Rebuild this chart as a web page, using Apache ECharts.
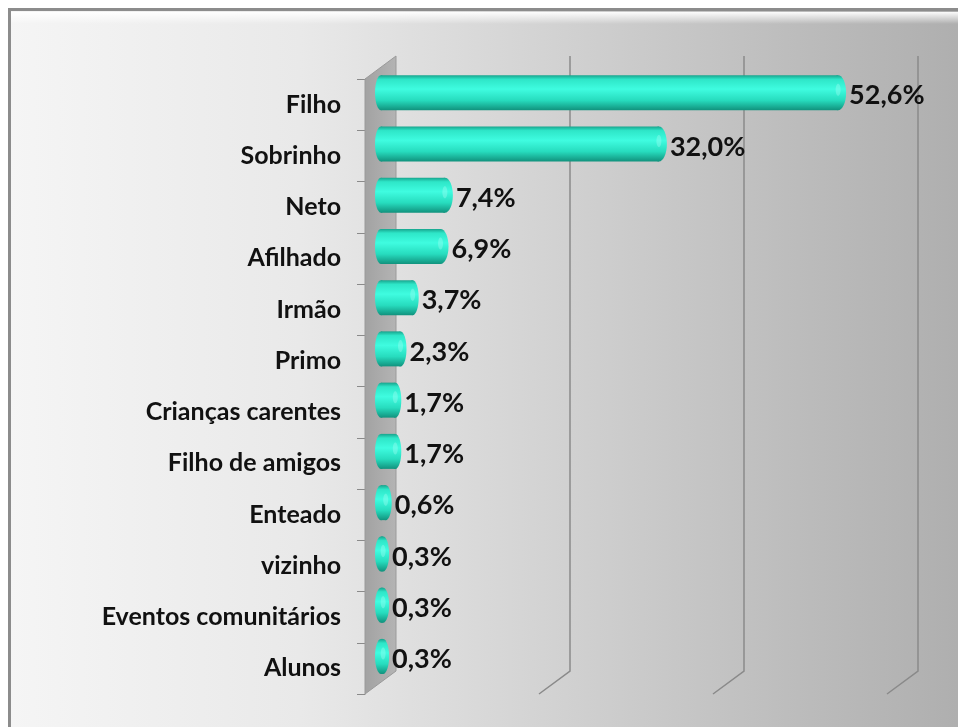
<!DOCTYPE html>
<html>
<head>
<meta charset="utf-8">
<script src="https://cdn.jsdelivr.net/npm/echarts@6/dist/echarts.min.js"></script>
<style>
    html, body { margin: 0; padding: 0; background: #fff; }
    #grafico { width: 958px; height: 727px; }
</style>
</head>
<body>
<div id="grafico"></div>
<script>
// categorie e percentuali
const categorie = ["Filho", "Sobrinho", "Neto", "Afilhado", "Irmão", "Primo", "Crianças carentes",
    "Filho de amigos", "Enteado", "vizinho", "Eventos comunitários", "Alunos"]
const percentuali = [52.6, 32.0, 7.4, 6.9, 3.7, 2.3, 1.7, 1.7, 0.6, 0.3, 0.3, 0.3]
const tickValori = [20, 40, 60]

// profondita' finta 3D
const depthX = 31
const depthY = -23

const barGradient = () => new echarts.graphic.LinearGradient(0, 0, 0, 1, [
    { offset: 0, color: "#17a38c" },
    { offset: 0.12, color: "#2ee6c8" },
    { offset: 0.4, color: "#3ffce0" },
    { offset: 0.72, color: "#27dcbe" },
    { offset: 1, color: "#11937e" },
])

const fmt = v => v.toFixed(1).replace(".", ",") + "%"

const myChart = echarts.init(document.getElementById("grafico"))

const option = {
    backgroundColor: "#ffffff",
    animation: false,
    graphic: [
        {
            type: "rect",
            z: -10,
            shape: { x: 9.5, y: 9.5, width: 970, height: 740 },
            style: {
                fill: new echarts.graphic.LinearGradient(0, 0, 1, 0, [
                    { offset: 0, color: "#f5f5f5" },
                    { offset: 0.3, color: "#e9e9e9" },
                    { offset: 0.55, color: "#d3d3d3" },
                    { offset: 0.8, color: "#bdbdbd" },
                    { offset: 1, color: "#adadad" },
                ]),
                stroke: "#8c8c8c",
                lineWidth: 3,
            },
        },
        {
            type: "rect",
            z: -9,
            shape: { x: 11, y: 12, width: 960, height: 12 },
            style: {
                fill: new echarts.graphic.LinearGradient(0, 0, 0, 1, [
                    { offset: 0, color: "rgba(255,255,255,0.95)" },
                    { offset: 1, color: "rgba(255,255,255,0)" },
                ]),
            },
        },
    ],
    grid: {
        left: 365,
        right: 71,
        top: 79,
        bottom: 33,
    },
    xAxis: {
        type: "value",
        min: 0,
        max: 60,
        interval: 20,
        axisLabel: { show: false },
        axisLine: { show: false },
        axisTick: { show: false },
        splitLine: { show: false },
    },
    yAxis: {
        type: "category",
        inverse: true,
        data: categorie,
        axisLine: { show: true, lineStyle: { color: "#8a8a8a", width: 1 } },
        axisTick: { show: true, length: 8, lineStyle: { color: "#8a8a8a" } },
        axisLabel: {
            margin: 24,
            color: "#111",
            fontFamily: "Lato",
            fontWeight: "bold",
            fontSize: 25,
        },
    },
    series: [
        {
            // linee della griglia sul fondo
            type: "custom",
            z: 1,
            silent: true,
            data: tickValori.map(v => [v, 0]),
            encode: { x: 0, y: 1 },
            renderItem: (params, api) => {
                const band = api.size([0, 1])[1]
                const top = api.coord([api.value(0), 0])[1] - band / 2
                const bottom = api.coord([api.value(0), categorie.length - 1])[1] + band / 2
                const x = api.coord([api.value(0), 0])[0]
                return {
                    type: "polyline",
                    shape: {
                        points: [
                            [x + depthX, top + depthY],
                            [x + depthX, bottom + depthY],
                            [x, bottom],
                        ],
                    },
                    style: { stroke: "#8a8a8a", lineWidth: 1.5, fill: null },
                }
            },
        },
        {
            // parete sinistra
            type: "custom",
            z: 2,
            silent: true,
            data: [[0, 0]],
            encode: { x: 0, y: 1 },
            renderItem: (params, api) => {
                const band = api.size([0, 1])[1]
                const top = api.coord([0, 0])[1] - band / 2
                const bottom = api.coord([0, categorie.length - 1])[1] + band / 2
                const x = api.coord([0, 0])[0]
                return {
                    type: "polygon",
                    shape: {
                        points: [
                            [x, top],
                            [x + depthX, top + depthY],
                            [x + depthX, bottom + depthY],
                            [x, bottom],
                        ],
                    },
                    style: {
                        fill: new echarts.graphic.LinearGradient(0, 0, 1, 0, [
                            { offset: 0, color: "#a2a2a2" },
                            { offset: 1, color: "#b4b4b4" },
                        ]),
                        stroke: "#9a9a9a",
                        lineWidth: 1,
                    },
                }
            },
        },
        {
            // barre cilindriche
            type: "custom",
            z: 3,
            data: percentuali.map((v, i) => [v, i]),
            encode: { x: 0, y: 1 },
            renderItem: (params, api) => {
                const v = api.value(0)
                const i = api.value(1)
                const p0 = api.coord([0, i])
                const p1 = api.coord([v, i])
                const h = 35
                const cy = p0[1] - 12
                const x0 = p0[0] + 10
                const xe = p1[0] + depthX / 2
                const rx = v > 5 ? 8 : 6
                return {
                    type: "group",
                    children: [
                        {
                            type: "ellipse",
                            shape: { cx: x0 + 6, cy: cy, rx: 6, ry: h / 2 },
                            style: { fill: barGradient() },
                        },
                        {
                            type: "rect",
                            shape: { x: x0 + 6, y: cy - h / 2, width: Math.max(xe - x0 - 6, 0), height: h },
                            style: { fill: barGradient() },
                        },
                        {
                            type: "ellipse",
                            shape: { cx: xe, cy: cy, rx: rx, ry: h / 2 },
                            style: { fill: barGradient() },
                        },
                        {
                            type: "ellipse",
                            shape: { cx: xe, cy: cy - 3, rx: 2.5, ry: 6 },
                            style: { fill: "rgba(190,255,248,0.3)" },
                        },
                        {
                            type: "text",
                            style: {
                                text: fmt(v),
                                x: xe + rx + 3,
                                y: cy + 3,
                                verticalAlign: "middle",
                                fill: "#111",
                                fontFamily: "Lato",
                                fontWeight: "bold",
                                fontSize: 27,
                            },
                        },
                    ],
                }
            },
        },
    ],
}

myChart.setOption(option, true)
</script>
</body>
</html>
